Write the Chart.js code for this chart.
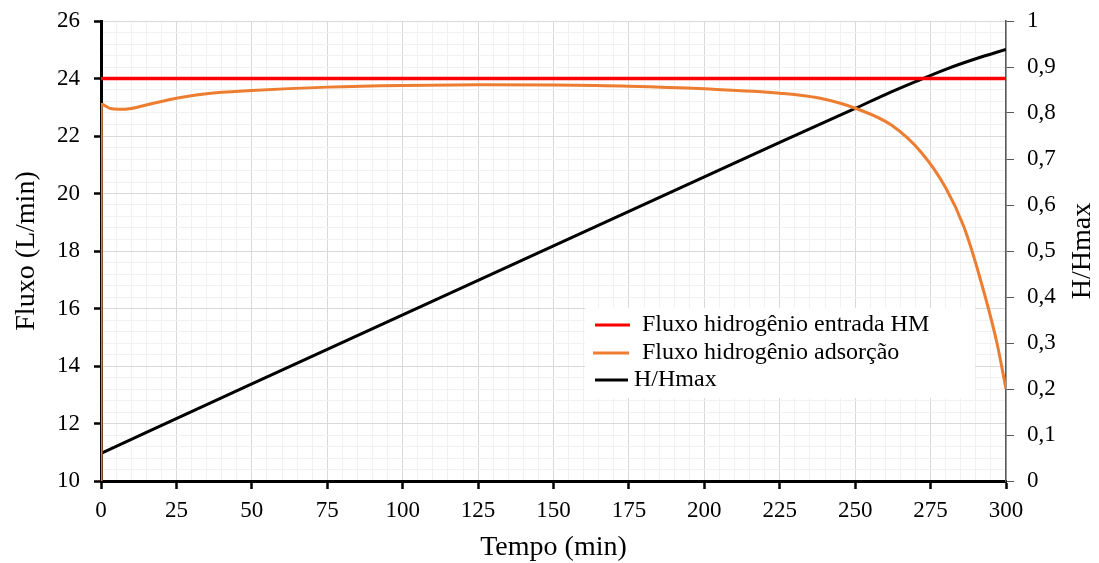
<!DOCTYPE html>
<html>
<head>
<meta charset="utf-8">
<script src="https://cdn.jsdelivr.net/npm/chart.js@4.4.1/dist/chart.umd.min.js"></script>
<style>
  html, body { margin: 0; padding: 0; background: #fff; }
</style>
</head>
<body>
<canvas id="grafico" width="1099" height="563"></canvas>
<script>
// dados
const tempoEntrada = [0, 300];
const fluxoEntrada = [24, 24];

const tempoAdsorcao = [0, 0.1, 3, 6, 10, 15, 20, 25, 35, 50, 75, 100, 125, 150, 175, 200, 225, 238, 251, 262, 272, 280, 286, 291, 297, 300];
const fluxoAdsorcao = [10, 23.1, 22.96, 22.93, 22.96, 23.08, 23.2, 23.31, 23.47, 23.58, 23.7, 23.76, 23.78, 23.77, 23.73, 23.64, 23.49, 23.32, 22.93, 22.38, 21.42, 20.2, 18.85, 17.2, 14.8, 13.2];

const tempoHH = [0, 50, 100, 150, 200, 225, 250, 260, 270, 280, 290, 300];
const razaoHH = [0.06, 0.211, 0.361, 0.511, 0.661, 0.736, 0.81, 0.84, 0.868, 0.895, 0.918, 0.938];

const rotulos = ['Fluxo hidrogênio entrada HM', 'Fluxo hidrogênio adsorção', 'H/Hmax'];
const cores = ['#ff0000', '#ed7d31', '#000000'];

const limitesX = [0, 300];
const limitesY = [10, 26];
const limitesY1 = [0, 1];

const tituloX = 'Tempo (min)';
const tituloY = 'Fluxo (L/min)';
const tituloY1 = 'H/Hmax';

const fonte = '"Liberation Serif", "Times New Roman", serif';

const pontos = (xs, ys) => xs.map((x, i) => ({ x: x, y: ys[i] }));
const multiplo = (v, m) => Math.abs(v / m - Math.round(v / m)) < 1e-6;
const virgula = v => String(Math.round(v * 10) / 10).replace('.', ',');

const extras = {
  id: 'extras',
  afterDraw(chart) {
    const c = chart.ctx;
    const area = chart.chartArea;
    const meioY = (area.top + area.bottom) / 2;
    c.save();
    c.fillStyle = '#000';
    c.textAlign = 'center';
    c.textBaseline = 'middle';
    c.font = '28px ' + fonte;
    c.fillText(tituloX, (area.left + area.right) / 2, 548);

    c.save();
    c.translate(27, meioY);
    c.rotate(-Math.PI / 2);
    c.fillText(tituloY, 0, 0);
    c.restore();

    c.save();
    c.translate(1083, meioY);
    c.rotate(-Math.PI / 2);
    c.fillText(tituloY1, 0, 0);
    c.restore();

    // legenda
    c.fillStyle = '#fff';
    c.fillRect(585, 308, 390, 90);
    const linhas = [
      { y: 325, x1: 595, x2: 630, tx: 642 },
      { y: 353, x1: 593, x2: 629, tx: 642 },
      { y: 380, x1: 595, x2: 628, tx: 634 }
    ];
    c.font = '24px ' + fonte;
    c.textAlign = 'left';
    linhas.forEach((l, i) => {
      c.strokeStyle = cores[i];
      c.lineWidth = 3;
      c.beginPath();
      c.moveTo(l.x1, l.y);
      c.lineTo(l.x2, l.y);
      c.stroke();
      c.fillStyle = '#000';
      c.fillText(rotulos[i], l.tx, l.y);
    });
    c.restore();
  }
};

const semSobra = s => { s.paddingTop = 0; s.paddingBottom = 0; };

const ctx = document.getElementById('grafico').getContext('2d');
new Chart(ctx, {
  type: 'scatter',
  data: {
    datasets: [
      {
        label: rotulos[0],
        data: pontos(tempoEntrada, fluxoEntrada),
        yAxisID: 'y',
        showLine: true,
        borderColor: cores[0],
        borderWidth: 3.5,
        pointRadius: 0
      },
      {
        label: rotulos[1],
        data: pontos(tempoAdsorcao, fluxoAdsorcao),
        yAxisID: 'y',
        showLine: true,
        borderColor: cores[1],
        borderWidth: 3,
        pointRadius: 0,
        cubicInterpolationMode: 'monotone'
      },
      {
        label: rotulos[2],
        data: pontos(tempoHH, razaoHH),
        yAxisID: 'y1',
        showLine: true,
        borderColor: cores[2],
        borderWidth: 3,
        pointRadius: 0,
        cubicInterpolationMode: 'monotone'
      }
    ]
  },
  options: {
    responsive: false,
    animation: false,
    layout: { padding: { top: 21, left: 0, right: 0, bottom: 0 } },
    plugins: {
      legend: { display: false },
      tooltip: { enabled: false }
    },
    scales: {
      x: {
        type: 'linear',
        min: limitesX[0],
        max: limitesX[1],
        afterFit: s => { s.height = 82; s.paddingLeft = 0; s.paddingRight = 0; },
        ticks: {
          stepSize: 5,
          autoSkip: false,
          maxRotation: 0,
          padding: 8,
          color: '#000',
          font: { family: fonte, size: 23 },
          callback: v => multiplo(v, 25) ? v : ''
        },
        grid: {
          color: c => (c.tick && multiplo(c.tick.value, 25)) ? '#d9d9d9' : '#f1f1f1',
          lineWidth: 1,
          tickLength: 8,
          tickWidth: 2.5,
          tickColor: c => (c.tick && multiplo(c.tick.value, 25)) ? '#000' : 'rgba(0,0,0,0)'
        },
        border: { color: '#000', width: 3 }
      },
      y: {
        type: 'linear',
        position: 'left',
        min: limitesY[0],
        max: limitesY[1],
        afterFit: s => { s.width = 101; semSobra(s); },
        ticks: {
          stepSize: 0.4,
          autoSkip: false,
          padding: 14,
          color: '#000',
          font: { family: fonte, size: 23 },
          callback: v => multiplo(v, 2) ? Math.round(v) : ''
        },
        grid: {
          color: c => (c.tick && multiplo(c.tick.value, 2)) ? '#d9d9d9' : '#f1f1f1',
          lineWidth: 1,
          tickLength: 7,
          tickWidth: 2.5,
          tickColor: c => (c.tick && multiplo(c.tick.value, 2)) ? '#000' : 'rgba(0,0,0,0)'
        },
        border: { color: '#000', width: 3 }
      },
      y1: {
        type: 'linear',
        position: 'right',
        min: limitesY1[0],
        max: limitesY1[1],
        afterFit: s => { s.width = 93; semSobra(s); },
        ticks: {
          stepSize: 0.1,
          autoSkip: false,
          padding: 13,
          color: '#000',
          font: { family: fonte, size: 23 },
          callback: v => virgula(v)
        },
        grid: {
          drawOnChartArea: false,
          tickLength: 8,
          tickWidth: 1,
          tickColor: '#595959'
        },
        border: { color: '#595959', width: 1.5 }
      }
    }
  },
  plugins: [extras]
});
</script>
</body>
</html>
